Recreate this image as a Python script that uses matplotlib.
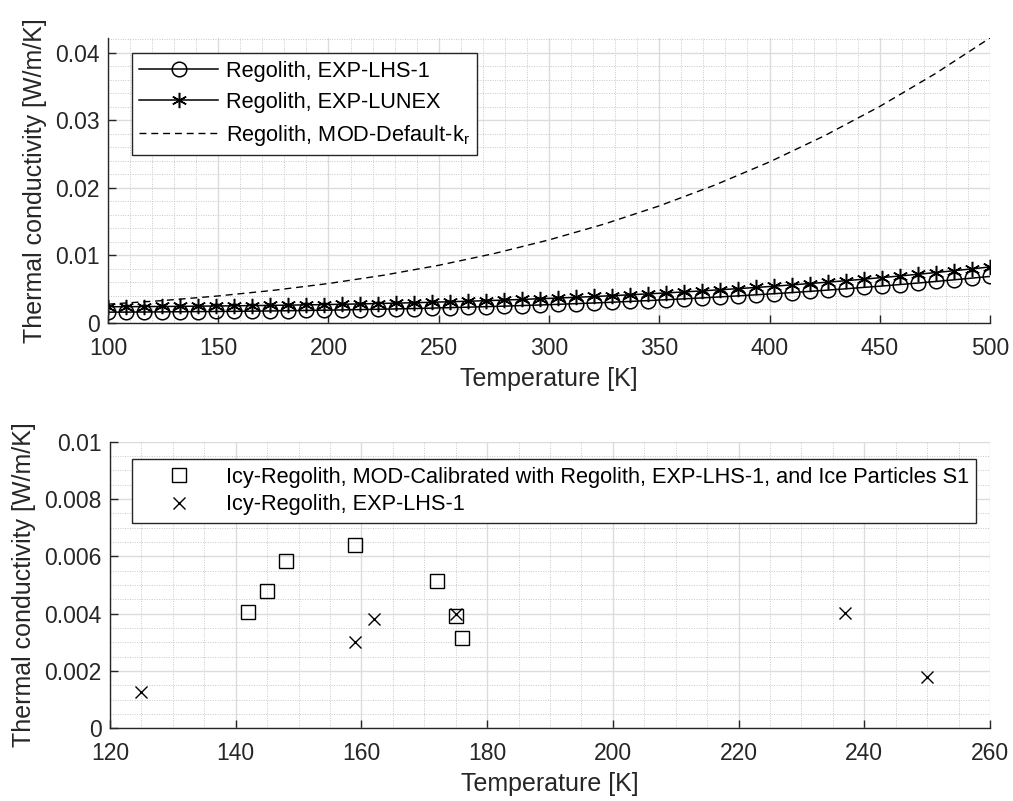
import matplotlib
matplotlib.use("Agg")
import matplotlib.pyplot as plt
from matplotlib.ticker import MultipleLocator, FuncFormatter

plt.rcParams["font.family"] = ["Liberation Sans", "DejaVu Sans"]

# top panel: regolith thermal conductivity vs temperature
temp_exp = [100.0, 108.2, 116.3, 124.5, 132.7, 140.8, 149.0, 157.1, 165.3, 173.5,
            181.6, 189.8, 198.0, 206.1, 214.3, 222.4, 230.6, 238.8, 246.9, 255.1,
            263.3, 271.4, 279.6, 287.8, 295.9, 304.1, 312.2, 320.4, 328.6, 336.7,
            344.9, 353.1, 361.2, 369.4, 377.6, 385.7, 393.9, 402.0, 410.2, 418.4,
            426.5, 434.7, 442.9, 451.0, 459.2, 467.3, 475.5, 483.7, 491.8, 500.0]
k_lhs1 = [0.00160, 0.00161, 0.00162, 0.00164, 0.00166, 0.00168, 0.00170, 0.00172, 0.00175, 0.00178,
          0.00181, 0.00185, 0.00189, 0.00193, 0.00198, 0.00203, 0.00208, 0.00214, 0.00220, 0.00227,
          0.00234, 0.00241, 0.00249, 0.00258, 0.00266, 0.00276, 0.00286, 0.00296, 0.00307, 0.00319,
          0.00331, 0.00344, 0.00357, 0.00371, 0.00386, 0.00401, 0.00417, 0.00433, 0.00450, 0.00468,
          0.00487, 0.00506, 0.00527, 0.00547, 0.00569, 0.00591, 0.00615, 0.00639, 0.00664, 0.00689]
k_lunex = [0.00240, 0.00241, 0.00243, 0.00244, 0.00246, 0.00249, 0.00251, 0.00254, 0.00257, 0.00260,
           0.00264, 0.00268, 0.00272, 0.00277, 0.00282, 0.00288, 0.00294, 0.00300, 0.00307, 0.00314,
           0.00322, 0.00330, 0.00339, 0.00349, 0.00359, 0.00369, 0.00380, 0.00392, 0.00404, 0.00417,
           0.00431, 0.00445, 0.00460, 0.00475, 0.00492, 0.00508, 0.00526, 0.00544, 0.00564, 0.00584,
           0.00605, 0.00626, 0.00649, 0.00672, 0.00696, 0.00721, 0.00747, 0.00774, 0.00801, 0.00830]
temp_mod = [100, 125, 150, 175, 200, 225, 250, 275, 300, 325, 350, 375, 400, 425, 450, 475, 500]
k_mod = [0.00278, 0.00332, 0.00400, 0.00483, 0.00584, 0.00707, 0.00854, 0.01027, 0.01230,
         0.01464, 0.01733, 0.02039, 0.02384, 0.02773, 0.03206, 0.03688, 0.04220]

# bottom panel: icy regolith
temp_cal = [142, 145, 148, 159, 172, 175, 176]
k_cal = [0.00405, 0.00480, 0.00585, 0.00638, 0.00515, 0.00393, 0.00315]
temp_icy = [125, 159, 162, 175, 237, 250]
k_icy = [0.00126, 0.00300, 0.00381, 0.00399, 0.00401, 0.00180]

AX_COLOR = "#262626"
TICK_FS = 16.5
LABEL_FS = 18
LEG_FS = 15.7


def fmt(v, pos):
    return "0" if abs(v) < 1e-12 else f"{v:g}"


def style_axes(ax, xmajor, xminor, ymajor, yminor):
    for side in ("top", "right"):
        ax.spines[side].set_visible(False)
    for side in ("left", "bottom"):
        ax.spines[side].set_color(AX_COLOR)
        ax.spines[side].set_linewidth(1.0)
    ax.xaxis.set_major_locator(MultipleLocator(xmajor))
    ax.xaxis.set_minor_locator(MultipleLocator(xminor))
    ax.yaxis.set_major_locator(MultipleLocator(ymajor))
    ax.yaxis.set_minor_locator(MultipleLocator(yminor))
    ax.yaxis.set_major_formatter(FuncFormatter(fmt))
    ax.tick_params(which="major", direction="in", length=6, width=1.0, color=AX_COLOR,
                   labelsize=TICK_FS, labelcolor=AX_COLOR)
    ax.tick_params(axis="x", which="major", pad=10)
    ax.tick_params(axis="y", which="major", pad=6)
    ax.tick_params(which="minor", length=0)
    ax.grid(which="major", color="#dcdcdc", linewidth=1.0, linestyle="-")
    ax.grid(which="minor", color="#c8c8c8", linewidth=0.7, linestyle=(0, (1, 1.5)))
    ax.set_axisbelow(True)
    ax.set_xlabel("Temperature [K]", fontsize=LABEL_FS, color=AX_COLOR, labelpad=5)
    ax.set_ylabel("Thermal conductivity [W/m/K]", fontsize=LABEL_FS, color=AX_COLOR, labelpad=6)


fig = plt.figure(figsize=(10.13, 8.01), dpi=100)
ax1 = fig.add_axes([0.1066, 0.5968, 0.8707, 0.3558])
ax2 = fig.add_axes([0.1086, 0.0908, 0.8687, 0.3578])

ax1.plot(temp_exp, k_lhs1, color="k", lw=1.1, marker="o", ms=10.5, mfc="none", mew=1.1,
         label="Regolith, EXP-LHS-1")
ax1.plot(temp_exp, k_lunex, color="k", lw=1.1, marker=(6, 2, 0), ms=11, mew=1.1,
         label="Regolith, EXP-LUNEX")
ax1.plot(temp_mod, k_mod, color="k", lw=1.0, linestyle=(0, (5, 3.5)),
         label="Regolith, MOD-Default-k$_\\mathregular{r}$")
ax1.set_xlim(100, 500)
ax1.set_ylim(0, 0.0422)
style_axes(ax1, 50, 10, 0.01, 0.002)

ax2.plot(temp_cal, k_cal, linestyle="none", marker="s", ms=9.5, mfc="none", mec="k", mew=1.0,
         label="Icy-Regolith, MOD-Calibrated with Regolith, EXP-LHS-1, and Ice Particles S1")
ax2.plot(temp_icy, k_icy, linestyle="none", marker="x", ms=9, mec="k", mew=1.0,
         label="Icy-Regolith, EXP-LHS-1")
ax2.set_xlim(120, 260)
ax2.set_ylim(0, 0.01)
style_axes(ax2, 20, 5, 0.002, 0.0005)

for ax, anchor, spacing in ((ax1, (0.0269, 0.946), 0.45), (ax2, (0.0247, 0.9386), 0.3)):
    leg = ax.legend(loc="upper left", bbox_to_anchor=anchor, fontsize=LEG_FS,
                    handlelength=3.6, handletextpad=0.36, borderpad=0.35,
                    labelspacing=spacing, fancybox=False, framealpha=1,
                    edgecolor=AX_COLOR, borderaxespad=0)
    leg.get_frame().set_linewidth(1.0)

fig.savefig("out.png", dpi=100)
